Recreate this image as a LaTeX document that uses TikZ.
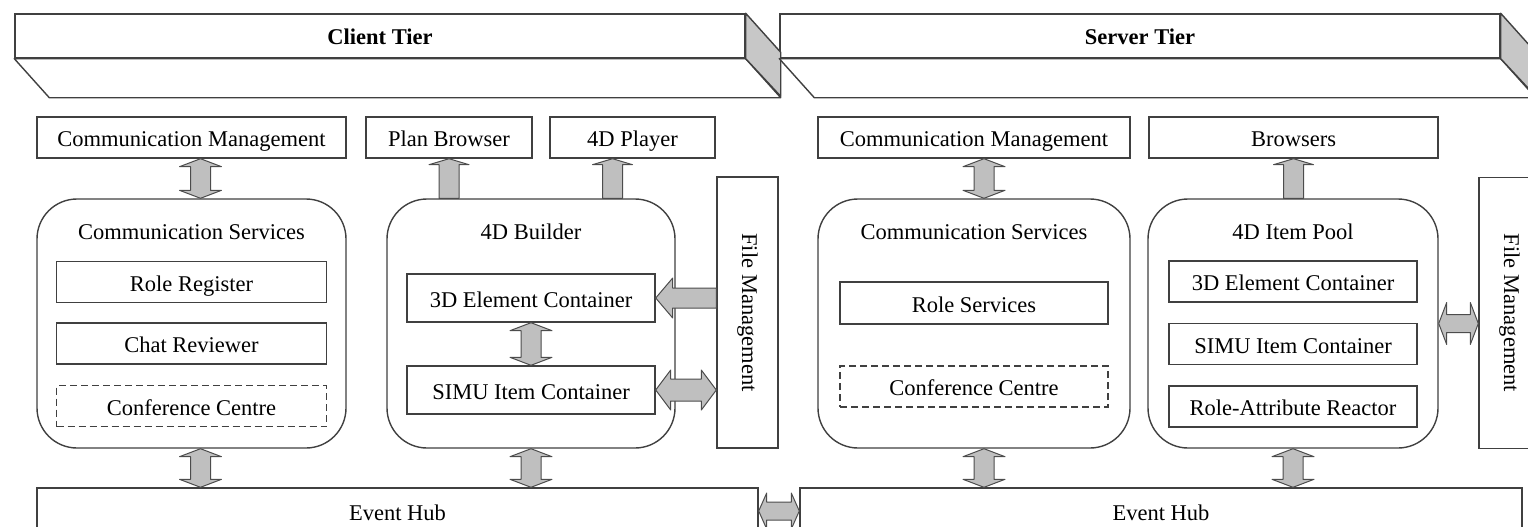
\documentclass[tikz,border=0pt]{standalone}
\usepackage{fontspec}
\setmainfont{Liberation Serif}
\usepackage{graphicx}
\usepackage{tikz}
\usetikzlibrary{calc,positioning}
\tikzset{every node/.style={align=center}, font=\fontsize{22.5}{26}\selectfont}
\def\aw{10pt}\def\ah{21pt}\def\al{8pt}
\tikzset{
  frame/.style={draw=black!75, line width=1.4pt, fill=white, inner sep=0pt},
  box/.style={frame, minimum height=41pt, text height=21pt, text depth=3pt},
  comp/.style={frame, rounded corners=40pt, minimum height=249pt},
  inbox/.style={box, minimum width=270pt},
  dashbox/.style={inbox, dashed, dash pattern=on 7pt off 4pt},
  tier/.style={box, minimum height=44pt, font=\fontsize{22.5}{26}\selectfont\bfseries},
  face/.style={draw=black!75, line width=1.4pt, line join=round},
  arrsize/.code args={#1/#2/#3}{\def\aw{#1}\def\ah{#2}\def\al{#3}},
  fatarrow/.style={draw=black!70, line width=1pt, fill=black!25, line join=round},
  dbl/.style={fatarrow, to path={let \p1=(\tikztostart), \p2=(\tikztotarget),
      \n1={atan2(\y2-\y1,\x2-\x1)}, \n2={veclen(\x2-\x1,\y2-\y1)} in
      {[shift={(\p1)}, rotate=\n1]
      (0pt,0pt) -- (\al,\ah) -- (\al,\aw) -- ({\n2*1pt-\al},\aw) -- ({\n2*1pt-\al},\ah)
      -- ({\n2*1pt},0pt) -- ({\n2*1pt-\al},-\ah) -- ({\n2*1pt-\al},-\aw)
      -- (\al,-\aw) -- (\al,-\ah) -- cycle}}},
  sgl/.style={fatarrow, to path={let \p1=(\tikztostart), \p2=(\tikztotarget),
      \n1={atan2(\y2-\y1,\x2-\x1)}, \n2={veclen(\x2-\x1,\y2-\y1)} in
      {[shift={(\p1)}, rotate=\n1]
      (0pt,\aw) -- ({\n2*1pt-\al},\aw) -- ({\n2*1pt-\al},\ah) -- ({\n2*1pt},0pt)
      -- ({\n2*1pt-\al},-\ah) -- ({\n2*1pt-\al},-\aw) -- (0pt,-\aw) -- cycle}}}
}

\begin{document}
\begin{tikzpicture}[x=1pt, y=-1pt]
            \useasboundingbox (0,0) rectangle (1528,527);
            % tiers
            \node [tier, minimum width=730pt] (ct) at (380,36) {Client Tier};
            \node [tier, minimum width=720pt] (st) at (1140,36) {Server Tier};
            \draw [face, fill=white] (ct.south west) -- ++(35,39) -- ([shift={(35,39)}]ct.south east) -- (ct.south east) -- cycle;
            \draw [face, fill=black!22] (ct.north east) -- ++(35,39) -- ++(0,44) -- (ct.south east) -- cycle;
            \draw [face, fill=white] (st.south west) -- ++(35,39) -- ([shift={(35,39)}]st.south east) -- (st.south east) -- cycle;
            \draw [face, fill=black!22] (st.north east) -- ++(35,39) -- ++(0,44) -- (st.south east) -- cycle;

            % client side
            \node [box, minimum width=309pt] (cm1) at (191.5,137.5) {Communication Management};
            \node [box, minimum width=166pt] (pb) [right of = cm1, node distance=257.5pt] {Plan Browser};
            \node [box, minimum width=165pt] (pl) [right of = pb, node distance=183.5pt] {4D Player};
            \node [comp, minimum width=309pt] (cs1) at (191.5,323.5) {};
            \node (cs1t) at ([yshift=-34pt]cs1.north) {Communication Services};
            \node [inbox] (rr) at (191.5,282) {Role Register};
            \node [inbox] (cr) [below of = rr, node distance=61.5pt] {Chat Reviewer};
            \node [dashbox] (cc1) [below of = cr, node distance=62.5pt] {Conference Centre};
            \node [comp, minimum width=288pt] (bld) at (531,323.5) {};
            \node (bldt) at ([yshift=-34pt]bld.north) {4D Builder};
            \node [inbox, minimum width=248pt, minimum height=48pt] (e3d) at (531,298) {3D Element Container};
            \node [inbox, minimum width=248pt, minimum height=48pt] (simu) [below of = e3d, node distance=92pt] {SIMU Item Container};
            \node [frame, minimum width=61pt, minimum height=271pt] (fm1) at (747.5,312.5) {\rotatebox{-90}{File Management}};
            \node [box, minimum width=721pt, minimum height=46pt] (eh1) at (397.5,511) {Event Hub};

            % server side
            \node [box, minimum width=312pt] (cm2) at (974,137.5) {Communication Management};
            \node [box, minimum width=289pt] (br) [right of = cm2, node distance=319.5pt] {Browsers};
            \node [comp, minimum width=312pt] (cs2) at (974,323.5) {};
            \node (cs2t) at ([yshift=-34pt]cs2.north) {Communication Services};
            \node [inbox, minimum width=268pt, minimum height=42pt] (rs) at (974,303) {Role Services};
            \node [dashbox, minimum width=268pt] (cc2) [below of = rs, node distance=83.5pt] {Conference Centre};
            \node [comp, minimum width=290pt] (pool) at (1293,323.5) {};
            \node (poolt) at ([yshift=-34pt]pool.north) {4D Item Pool};
            \node [inbox, minimum width=248pt] (e3d2) at (1293,281.5) {3D Element Container};
            \node [inbox, minimum width=248pt] (simu2) [below of = e3d2, node distance=62.5pt] {SIMU Item Container};
            \node [inbox, minimum width=248pt] (rar) [below of = simu2, node distance=62.5pt] {Role-Attribute Reactor};
            \node [frame, minimum width=61pt, minimum height=271pt] (fm2) at (1509.5,313) {\rotatebox{-90}{File Management}};
            \node [box, minimum width=722pt, minimum height=46pt] (eh2) at (1161,511) {Event Hub};

            \coordinate (plt) at ([xshift=-20pt]pl.south);
            \coordinate (cs1b) at ([xshift=9pt]cs1.south);
            \coordinate (cs2b) at ([xshift=10pt]cs2.south);

            % block arrows
            \draw [dbl] ([xshift=9pt]cm1.south) to ([xshift=9pt]cs1.north);
            \draw [dbl] (cs1b) to (cs1b |- eh1.north);
            \draw [dbl] ([xshift=10pt]cm2.south) to ([xshift=10pt]cs2.north);
            \draw [dbl] (cs2b) to (cs2b |- eh2.north);
            \draw [dbl] (bld.south) to (bld.south |- eh1.north);
            \draw [dbl] (pool.south) to (pool.south |- eh2.north);
            \draw [dbl] (e3d.south) to (simu.north);
            \draw [sgl, arrsize=10pt/20pt/6pt] (pb.south |- bld.north) to (pb.south);
            \draw [sgl, arrsize=10pt/20pt/6pt] (plt |- bld.north) to (plt);
            \draw [sgl, arrsize=10pt/20pt/6pt] (br.south |- pool.north) to (br.south);
            \draw [sgl, arrsize=10pt/20pt/17pt] (fm1.west |- e3d.east) to (e3d.east);
            \draw [dbl, arrsize=11pt/20pt/15pt] (simu.east) to (simu.east -| fm1.west);
            \draw [dbl, arrsize=9pt/21pt/8pt] (pool.east) to (pool.east -| fm2.west);
            \draw [dbl, arrsize=9pt/18pt/8pt] (eh1.east) to (eh2.west);
\end{tikzpicture}
\end{document}
